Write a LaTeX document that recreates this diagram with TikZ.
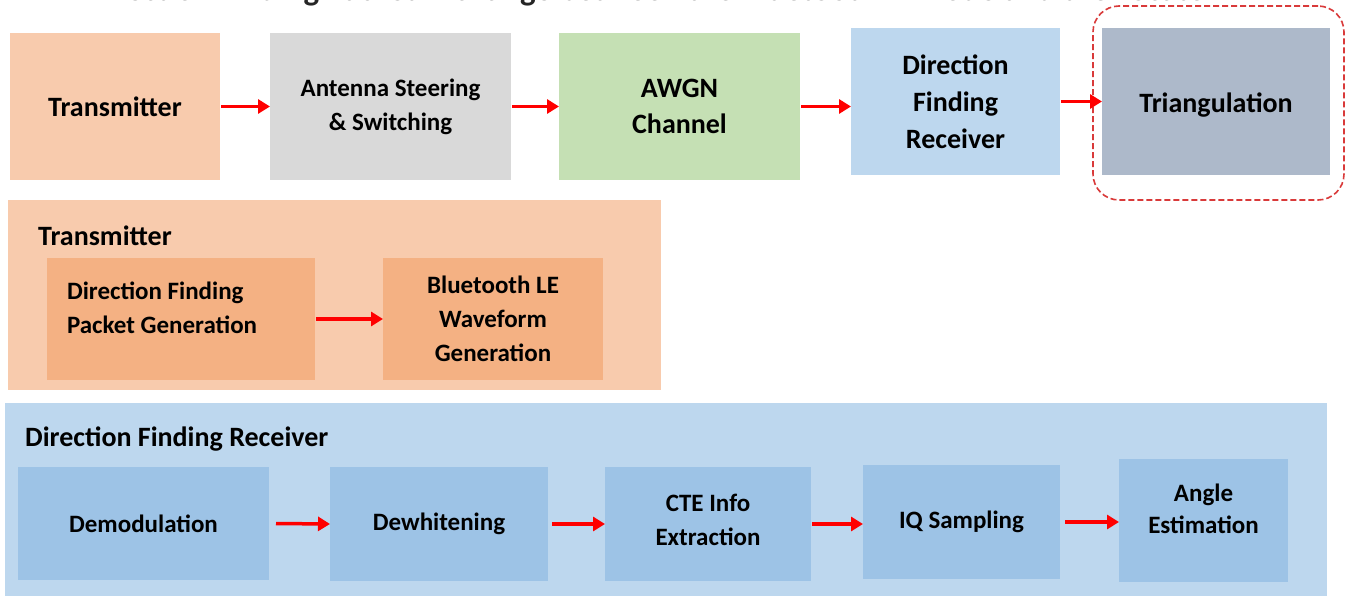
\documentclass[tikz,border=0pt]{standalone}
\usepackage{fontspec}
\setmainfont{Carlito}
\usetikzlibrary{arrows.meta}
\definecolor{peach}{HTML}{F8CBAD}
\definecolor{peachdark}{HTML}{F4B183}
\definecolor{grayb}{HTML}{D9D9D9}
\definecolor{greenb}{HTML}{C5E0B4}
\definecolor{blueb}{HTML}{BDD7EE}
\definecolor{bluedark}{HTML}{9DC3E6}
\definecolor{slate}{HTML}{ADB9CA}
\definecolor{framered}{HTML}{D93A3A}
\tikzset{
  blk/.style={draw=none, inner sep=0pt, outer sep=0pt, align=center, font=\bfseries\fontsize{28}{37}\selectfont},
  sub/.style={draw=none, inner sep=0pt, outer sep=0pt, align=center, font=\bfseries\fontsize{25}{34}\selectfont},
  grp/.style={draw=none, inner sep=0pt, outer sep=0pt},
  ttl/.style={inner sep=0pt, anchor=base west, font=\bfseries\fontsize{28}{34}\selectfont},
  flow/.style={draw=red, line width=3.5pt, -{Triangle[length=12pt,width=14pt]}, shorten <=1pt, shorten >=0pt},
}
\begin{document}
\begin{tikzpicture}[x=1pt,y=-1pt]
\useasboundingbox (0,0) rectangle (1346,596);
\clip (0,0) rectangle (1346,596);
\fill[white] (0,0) rectangle (1346,596);
% cut-off title
\node[inner sep=0pt, anchor=base west, font=\bfseries\fontsize{33}{40}\selectfont, text=black!85] (title) at (86,1) {Direction Finding Packet Exchange between the Bluetooth LE Node and the Locator};
% top row
\node[blk, fill=peach, minimum width=210pt, minimum height=147pt] (tx) at (115,106.5) {Transmitter};
\node[sub, fill=grayb, minimum width=241pt, minimum height=147pt] (ant) at (390.5,106.5) {Antenna Steering\\\& Switching};
\node[blk, fill=greenb, minimum width=241pt, minimum height=147pt, font=\bfseries\fontsize{28}{36}\selectfont] (awgn) at (679.5,106.5) {AWGN\\Channel};
\node[blk, fill=blueb, minimum width=209pt, minimum height=147pt] (dfr) at (955.5,101.5) {Direction\\Finding\\Receiver};
\node[blk, fill=slate, minimum width=228pt, minimum height=147pt,
      label={[blk, yshift=-4pt]center:Triangulation}] (tri) at (1216,101.5) {};
\node[draw=framered, dashed, dash pattern=on 6pt off 3pt, line width=1.6pt, rounded corners=26pt, minimum width=251pt, minimum height=194pt, inner sep=0pt] (triframe) at (1218.5,103) {};
\draw[flow] (tx.east) -- (ant.west);
\draw[flow] (ant.east) -- (awgn.west);
\draw[flow] (awgn.east) -- (dfr.west |- awgn.east);
\draw[flow] (dfr.east) -- (tri.west);
% transmitter group
\node[grp, fill=peach, minimum width=653pt, minimum height=190pt] (txg) at (334.5,295) {};
\node[ttl] (txgt) at (38,245) {Transmitter};
\node[sub, fill=peachdark, minimum width=268pt, minimum height=122pt,
      label={[sub, align=left, anchor=west, yshift=9pt]west:{\hspace*{20pt}\begin{tabular}{@{}l@{}}Direction Finding\\Packet Generation\end{tabular}}}] (pkt) at (181,319) {};
\node[sub, fill=peachdark, minimum width=220pt, minimum height=122pt] (wav) at (493,319) {Bluetooth LE\\Waveform\\Generation};
\draw[flow] (pkt.east) -- (wav.west);
% receiver group
\node[grp, fill=blueb, minimum width=1322pt, minimum height=200pt] (rxg) at (666,503) {};
\node[ttl] (rxgt) at (25,446) {Direction Finding Receiver};
\node[sub, fill=bluedark, minimum width=251pt, minimum height=113pt] (dem) at (143.5,523.5) {Demodulation};
\node[sub, fill=bluedark, minimum width=218pt, minimum height=114pt] (dew) at (439,524) {Dewhitening};
\node[sub, fill=bluedark, minimum width=206pt, minimum height=114pt,
      label={[sub, yshift=4pt]center:{CTE Info\\Extraction}}] (cte) at (708,524) {};
\node[sub, fill=bluedark, minimum width=197pt, minimum height=114pt] (iq) at (961.5,522) {IQ Sampling};
\node[sub, fill=bluedark, minimum width=169pt, minimum height=123pt,
      label={[sub, yshift=12pt, font=\bfseries\fontsize{25}{32}\selectfont]center:{Angle\\Estimation}}] (ang) at (1203.5,520.5) {};
\draw[flow] ([xshift=6pt]dem.east) -- (dew.west);
\draw[flow] ([xshift=3pt]dew.east) -- (cte.west);
\draw[flow] (cte.east) -- (iq.west |- cte.east);
\draw[flow] ([xshift=4pt]iq.east) -- (ang.west |- iq.east);
\end{tikzpicture}
\end{document}
